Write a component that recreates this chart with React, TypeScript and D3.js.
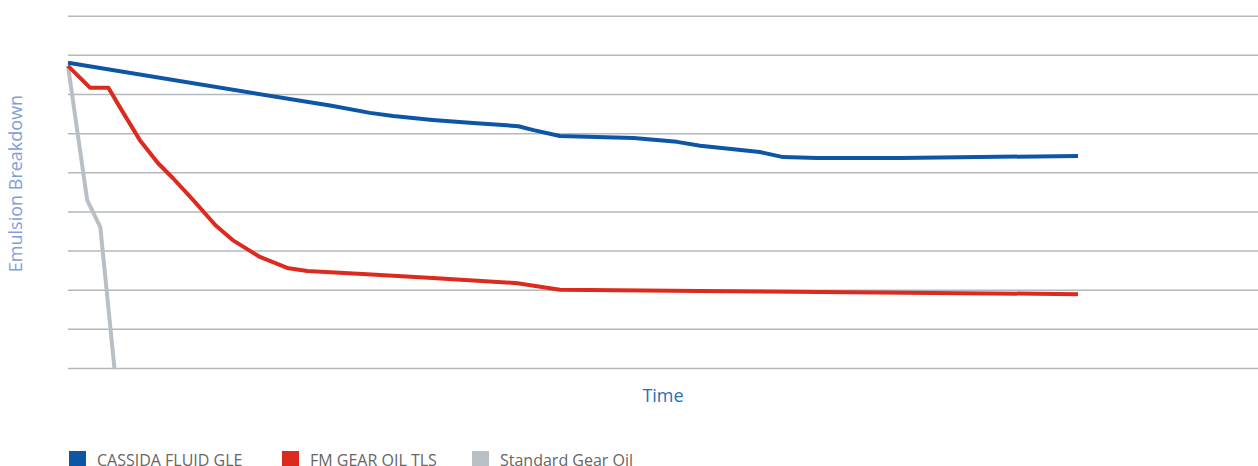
import React from "react";
import * as d3 from "d3";

const gridValues = [0, 1, 2, 3, 4, 5, 6, 7, 8, 9];

const cassidaTime = [0, 26.1, 29.9, 32.2, 36.1, 40.1, 44.6, 46.1, 48.7, 56.0, 60.3, 62.6, 68.5, 70.8, 74.2, 82.4, 100];
const cassidaValue = [7.81, 6.71, 6.53, 6.45, 6.35, 6.27, 6.19, 6.09, 5.94, 5.89, 5.79, 5.69, 5.53, 5.4, 5.38, 5.38, 5.43];

const fmTime = [0, 2.2, 4.0, 5.1, 7.1, 8.9, 10.4, 12.4, 14.6, 16.3, 19.0, 21.7, 23.7, 29.6, 36.1, 44.5, 48.7, 62.6, 100];
const fmValue = [7.73, 7.17, 7.17, 6.69, 5.84, 5.25, 4.86, 4.3, 3.66, 3.28, 2.85, 2.57, 2.49, 2.41, 2.31, 2.18, 2.01, 1.98, 1.9];

const stdTime = [0, 1.9, 3.2, 4.6];
const stdValue = [7.73, 4.3, 3.61, 0];

const seriesNames = ["CASSIDA FLUID GLE", "FM GEAR OIL TLS", "Standard Gear Oil"];
const seriesColors = ["#0d56a6", "#dc2a1e", "#b9c0c5"];

const W = 1258;
const H = 466;
const FONT = "'Open Sans', 'Noto Sans', sans-serif";

export default function App() {
  const x = d3.scaleLinear().domain([0, 100]).range([68, 1078]);
  const y = d3.scaleLinear().domain([0, 9]).range([368.5, 16.2]);
  const line = d3
    .line<[number, number]>()
    .x((d) => x(d[0]))
    .y((d) => y(d[1]))
    .curve(d3.curveLinear);

  const series = [
    cassidaTime.map((t, i) => [t, cassidaValue[i]] as [number, number]),
    fmTime.map((t, i) => [t, fmValue[i]] as [number, number]),
    stdTime.map((t, i) => [t, stdValue[i]] as [number, number]),
  ];

  const legendX = [69, 282, 472];

  return (
    <svg
      width={W}
      height={H}
      style={{ position: "absolute", left: 0, top: 0, background: "#fff" }}
    >
      {gridValues.map((v) => (
        <line
          key={v}
          x1={68}
          x2={W}
          y1={y(v)}
          y2={y(v)}
          stroke="#b2b8bd"
          strokeWidth={1.5}
        />
      ))}
      {[2, 1, 0].map((i) => (
        <path
          key={i}
          d={line(series[i]) || ""}
          fill="none"
          stroke={seriesColors[i]}
          strokeWidth={4}
          strokeLinejoin="round"
        />
      ))}
      <text
        transform={`translate(22,${183.5}) rotate(-90)`}
        textAnchor="middle"
        fontFamily={FONT}
        fontSize={18}
        fill="#7f9ed8"
      >
        Emulsion Breakdown
      </text>
      <text
        x={663}
        y={401.5}
        textAnchor="middle"
        fontFamily={FONT}
        fontSize={18}
        fill="#2e6db6"
      >
        Time
      </text>
      {seriesNames.map((name, i) => (
        <g key={name}>
          <rect x={legendX[i]} y={451} width={17} height={17} fill={seriesColors[i]} />
          <text
            x={legendX[i] + 28}
            y={466}
            fontFamily={FONT}
            fontSize={16}
            fill="#666"
          >
            {name}
          </text>
        </g>
      ))}
    </svg>
  );
}
